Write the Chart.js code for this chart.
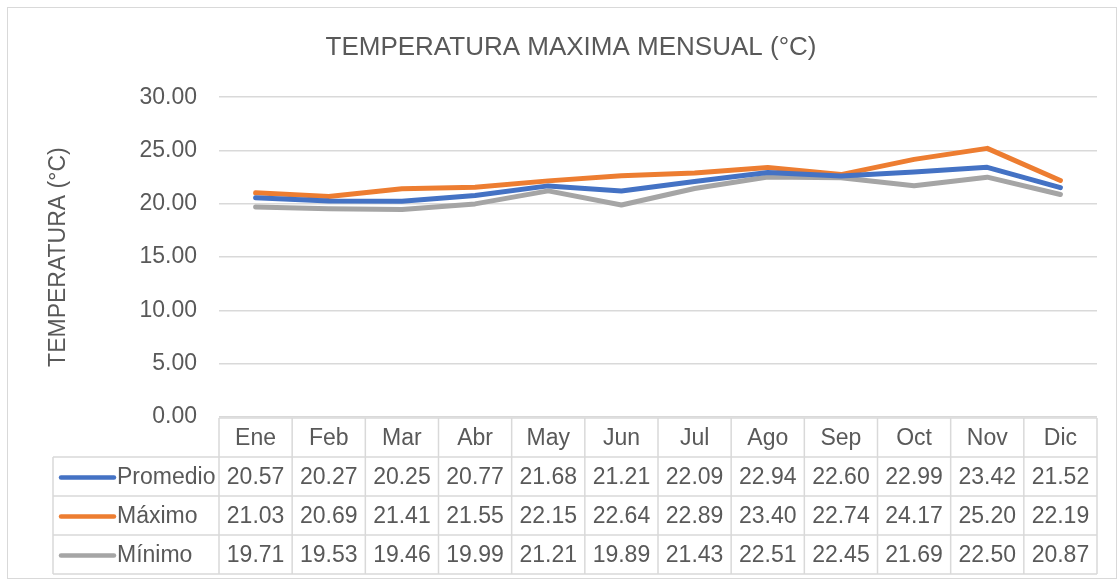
<!DOCTYPE html>
<html><head><meta charset="utf-8">
<script src="https://cdn.jsdelivr.net/npm/chart.js@4"></script>
<style>html,body{margin:0;padding:0;background:#fff;}#wrap{width:1118px;height:580px;position:relative;}</style>
</head><body><div id="wrap"><canvas id="c" width="1118" height="580"></canvas></div>
<script>
const months = ['Ene','Feb','Mar','Abr','May','Jun','Jul','Ago','Sep','Oct','Nov','Dic'];
const promedio = [20.57,20.27,20.25,20.77,21.68,21.21,22.09,22.94,22.60,22.99,23.42,21.52];
const maximo = [21.03,20.69,21.41,21.55,22.15,22.64,22.89,23.40,22.74,24.17,25.20,22.19];
const minimo = [19.71,19.53,19.46,19.99,21.21,19.89,21.43,22.51,22.45,21.69,22.50,20.87];
const seriesNames = ['Promedio','Máximo','Mínimo'];
const seriesColors = ['#4472C4','#ED7D31','#A5A5A5'];
const FONT = '"Liberation Sans Narrow","Arial Narrow","Liberation Sans",Arial,sans-serif';
const TXT = '#595959';
const GRID = '#D9D9D9';

const tablePlugin = {
  id: 'dataTable',
  beforeDraw(chart) {
    const ctx = chart.ctx;
    ctx.save();
    ctx.fillStyle = '#fff';
    ctx.fillRect(0,0,chart.width,chart.height);
    ctx.strokeStyle = GRID; ctx.lineWidth = 1;
    ctx.strokeRect(7.5,7.5,1109,571);
    ctx.restore();
  },
  afterDraw(chart) {
    const ctx = chart.ctx, x = chart.scales.x, area = chart.chartArea;
    const half = (x.getPixelForValue(1) - x.getPixelForValue(0)) / 2;
    const left = area.left, right = area.right;
    const top = area.bottom + 1, rh = 39;
    const legLeft = 53;
    ctx.save();
    ctx.strokeStyle = GRID; ctx.lineWidth = 1.5;
    ctx.beginPath();
    ctx.moveTo(left, top); ctx.lineTo(right, top);
    for (let r = 1; r <= 4; r++) { ctx.moveTo(legLeft, top + r*rh); ctx.lineTo(right, top + r*rh); }
    ctx.moveTo(legLeft, top + rh); ctx.lineTo(legLeft, top + 4*rh);
    for (let i = 0; i < months.length; i++) {
      const b = x.getPixelForValue(i) - half;
      ctx.moveTo(b, top); ctx.lineTo(b, top + 4*rh);
    }
    ctx.moveTo(right, top); ctx.lineTo(right, top + 4*rh);
    ctx.stroke();
    const data = [promedio, maximo, minimo];
    ctx.font = '23px ' + FONT;
    ctx.fillStyle = TXT;
    ctx.textBaseline = 'middle';
    for (let r = 0; r < 3; r++) {
      const cy = top + (r+1)*rh + rh/2 + 1;
      ctx.strokeStyle = seriesColors[r]; ctx.lineWidth = 4.5; ctx.lineCap = 'round';
      ctx.beginPath(); ctx.moveTo(61, cy); ctx.lineTo(114, cy); ctx.stroke();
      ctx.textAlign = 'left';
      ctx.fillStyle = TXT;
      ctx.fillText(seriesNames[r], 117, cy);
      ctx.textAlign = 'center';
      for (let i = 0; i < months.length; i++) {
        ctx.fillText(data[r][i].toFixed(2), x.getPixelForValue(i), cy);
      }
    }
    ctx.restore();
  }
};

new Chart(document.getElementById('c'), {
  type: 'line',
  data: {
    labels: months,
    datasets: [
      {label: seriesNames[0], data: promedio, borderColor: seriesColors[0], backgroundColor: seriesColors[0]},
      {label: seriesNames[1], data: maximo, borderColor: seriesColors[1], backgroundColor: seriesColors[1]},
      {label: seriesNames[2], data: minimo, borderColor: seriesColors[2], backgroundColor: seriesColors[2]}
    ].map(d => Object.assign(d, {borderWidth: 5, pointRadius: 0, tension: 0, borderCapStyle: 'round', borderJoinStyle: 'round', fill: false}))
  },
  options: {
    responsive: false, animation: false,
    layout: {padding: {left: 45, right: 21, top: 0, bottom: 0}},
    plugins: {
      legend: {display: false}, tooltip: {enabled: false},
      title: {display: true, text: 'TEMPERATURA MAXIMA MENSUAL (°C)', color: TXT,
        font: {family: FONT, size: 26, weight: 'normal'}, padding: {top: 32, bottom: 34}}
    },
    scales: {
      x: {
        offset: true,
        grid: {display: false, drawTicks: false},
        border: {display: false},
        ticks: {color: TXT, font: {family: FONT, size: 23}, padding: 8, maxRotation: 0},
        afterFit(s) { s.height = 163; }
      },
      y: {
        min: 0, max: 30,
        ticks: {stepSize: 5, color: TXT, font: {family: FONT, size: 23}, padding: 22, callback: v => v.toFixed(2)},
        grid: {color: GRID, lineWidth: 1.5, drawTicks: false},
        border: {display: false},
        title: {display: true, text: 'TEMPERATURA (°C)', color: TXT, font: {family: FONT, size: 23}, padding: 0},
        afterFit(s) { s.width = 174; }
      }
    }
  },
  plugins: [tablePlugin]
});
</script></body></html>
